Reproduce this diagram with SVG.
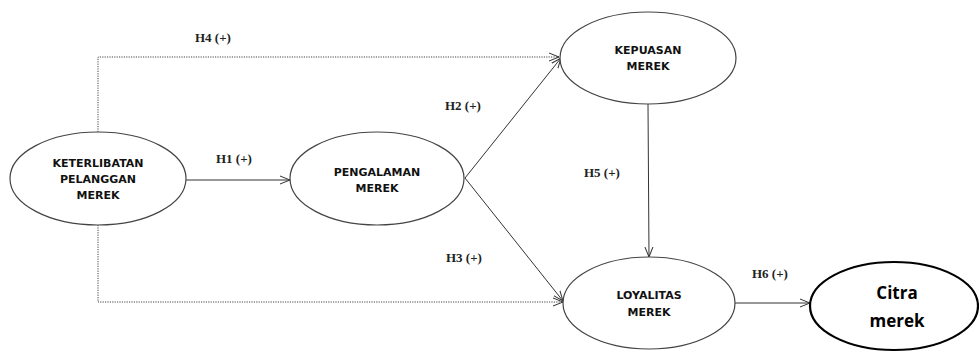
<svg xmlns="http://www.w3.org/2000/svg" width="979" height="352" viewBox="0 0 979 352">
<defs>
<style>
.node{fill:#fff;stroke:#444;stroke-width:1.2}
.thick{fill:#fff;stroke:#000;stroke-width:2.2}
.nt{font-family:"DejaVu Sans","Liberation Sans",sans-serif;font-weight:bold;font-size:11px;fill:#111;text-anchor:middle}
.ct{font-family:"Open Sans","Liberation Sans",sans-serif;font-weight:bold;font-size:17px;fill:#000;text-anchor:middle}
.lbl{font-family:"Liberation Serif","Times New Roman",serif;font-weight:bold;font-size:13px;fill:#222}
.c{fill:none;stroke:#333;stroke-width:1}
.d{fill:none;stroke:#444;stroke-width:1;stroke-dasharray:1.2 1.2}
</style>
<marker id="arr" viewBox="0 0 10 10" refX="10" refY="5" markerWidth="10" markerHeight="10" markerUnits="userSpaceOnUse" orient="auto">
<path d="M0,1 L10,5 L0,9" fill="none" stroke="#333" stroke-width="1"/>
</marker>
</defs>
<rect width="979" height="352" fill="#fff"/>
<g id="connectors">
<path class="d" d="M98,132 V57 H559" marker-end="url(#arr)"/>
<path class="d" d="M98,225 V302 H563" marker-end="url(#arr)"/>
<line class="c" x1="186" y1="180" x2="290" y2="180" marker-end="url(#arr)"/>
<line class="c" x1="465" y1="178" x2="561" y2="58" marker-end="url(#arr)"/>
<line class="c" x1="465" y1="178" x2="563" y2="301" marker-end="url(#arr)"/>
<line class="c" x1="648" y1="104" x2="649" y2="257" marker-end="url(#arr)"/>
<line class="c" x1="735" y1="303" x2="810" y2="303" marker-end="url(#arr)"/>
<text class="lbl" x="195" y="42">H4 (+)</text>
<text class="lbl" x="216" y="163">H1 (+)</text>
<text class="lbl" x="445" y="110">H2 (+)</text>
<text class="lbl" x="446" y="262">H3 (+)</text>
<text class="lbl" x="584" y="177">H5 (+)</text>
<text class="lbl" x="752" y="278">H6 (+)</text>
</g>
<g id="keterlibatan">
<ellipse class="node" cx="98" cy="178.5" rx="88" ry="46.5"/>
<text class="nt" x="98" y="167">KETERLIBATAN</text>
<text class="nt" x="98" y="183">PELANGGAN</text>
<text class="nt" x="98" y="199">MEREK</text>
</g>
<g id="pengalaman">
<ellipse class="node" cx="377" cy="178.5" rx="87" ry="46.5"/>
<text class="nt" x="377" y="176">PENGALAMAN</text>
<text class="nt" x="377" y="192">MEREK</text>
</g>
<g id="kepuasan">
<ellipse class="node" cx="648" cy="58" rx="88" ry="46"/>
<text class="nt" x="648" y="54">KEPUASAN</text>
<text class="nt" x="648" y="70">MEREK</text>
</g>
<g id="loyalitas">
<ellipse class="node" cx="649" cy="303" rx="86" ry="46"/>
<text class="nt" x="649" y="299">LOYALITAS</text>
<text class="nt" x="649" y="316">MEREK</text>
</g>
<g id="citra">
<ellipse class="thick" cx="894" cy="306" rx="84" ry="44"/>
<text class="ct" x="897" y="299">Citra</text>
<text class="ct" x="897" y="327">merek</text>
</g>
</svg>
